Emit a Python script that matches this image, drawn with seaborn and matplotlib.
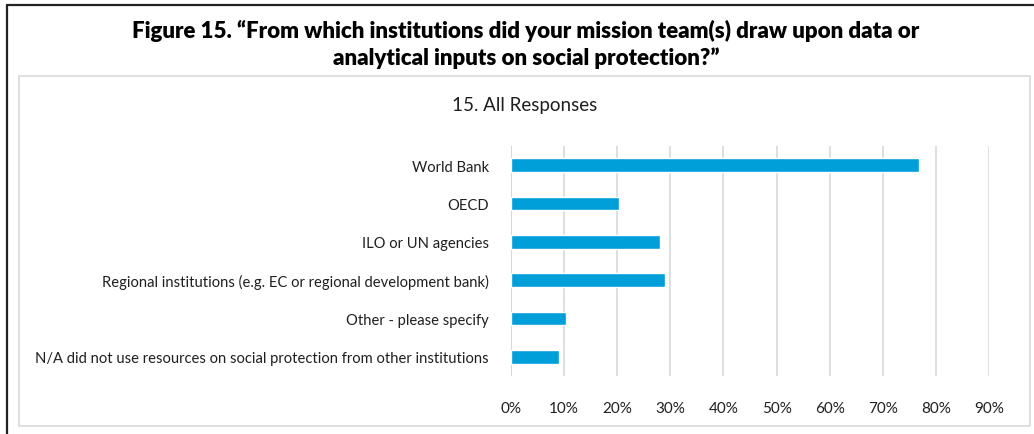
# Figure 15 - institutions used for social protection inputs

import matplotlib.pyplot as plt
import seaborn as sns
import pandas as pd
from matplotlib.patches import Rectangle
from matplotlib.ticker import PercentFormatter

# data
institutions = [
    "World Bank",
    "OECD",
    "ILO or UN agencies",
    "Regional institutions (e.g. EC or regional development bank)",
    "Other - please specify",
    "N/A did not use resources on social protection from other institutions",
]
shares = [0.768, 0.204, 0.281, 0.290, 0.104, 0.090]
x_ticks = [0.0, 0.1, 0.2, 0.3, 0.4, 0.5, 0.6, 0.7, 0.8, 0.9]

df = pd.DataFrame({"institution": institutions, "share": shares})

sns.set_theme(style="white")
plt.rcParams["font.family"] = ["Lato", "DejaVu Sans"]

W, H = 1034, 435
fig = plt.figure(figsize=(W / 100, H / 100), dpi=100)
fig.patch.set_facecolor("white")

# outer frame (left + top) and inner chart box
fig.add_artist(plt.Line2D([7 / W, 7 / W], [0, 1 - 6 / H], transform=fig.transFigure,
                          color="#222222", lw=1.6))
fig.add_artist(plt.Line2D([7 / W, 1], [1 - 6 / H, 1 - 6 / H], transform=fig.transFigure,
                          color="#222222", lw=1.6))
fig.add_artist(Rectangle((19 / W, 1 - 427 / H), (1030 - 19) / W, (427 - 77) / H,
                         transform=fig.transFigure, fill=False, edgecolor="#D9D9D9", lw=1.2))

fig.text(526 / W, 1 - 31 / H,
         "Figure 15. \u201cFrom which institutions did your mission team(s) draw upon data or",
         ha="center", va="center", fontsize=16, fontweight="heavy", color="black")
fig.text(526 / W, 1 - 58 / H, "analytical inputs on social protection?\u201d",
         ha="center", va="center", fontsize=16, fontweight="heavy", color="black")
fig.text(525 / W, 1 - 105 / H, "15. All Responses",
         ha="center", va="center", fontsize=13.5, color="#1f1f1f")

ax = fig.add_axes([511 / W, 1 - 377 / H, (989 - 511) / W, (377 - 147) / H])
sns.barplot(data=df, x="share", y="institution", orient="h", color="#009FDA",
            width=0.35, saturation=1, ax=ax)

ax.set_xlim(0, 0.9)
ax.set_ylim(5.5, -0.5)
ax.set_xticks(x_ticks)
ax.xaxis.set_major_formatter(PercentFormatter(1.0, decimals=0))
ax.grid(axis="x", color="#D9D9D9", lw=1.2)
ax.set_axisbelow(True)
for s in ax.spines.values():
    s.set_visible(False)
ax.axvline(0, color="#D0D0D0", lw=1.4, zorder=0)
ax.set_xlabel("")
ax.set_ylabel("")
ax.tick_params(axis="x", length=0, pad=18, labelsize=11, labelcolor="#1f1f1f")
ax.tick_params(axis="y", length=0, pad=16, labelsize=10.65, labelcolor="#1f1f1f")

fig.savefig("out.png", dpi=100)
